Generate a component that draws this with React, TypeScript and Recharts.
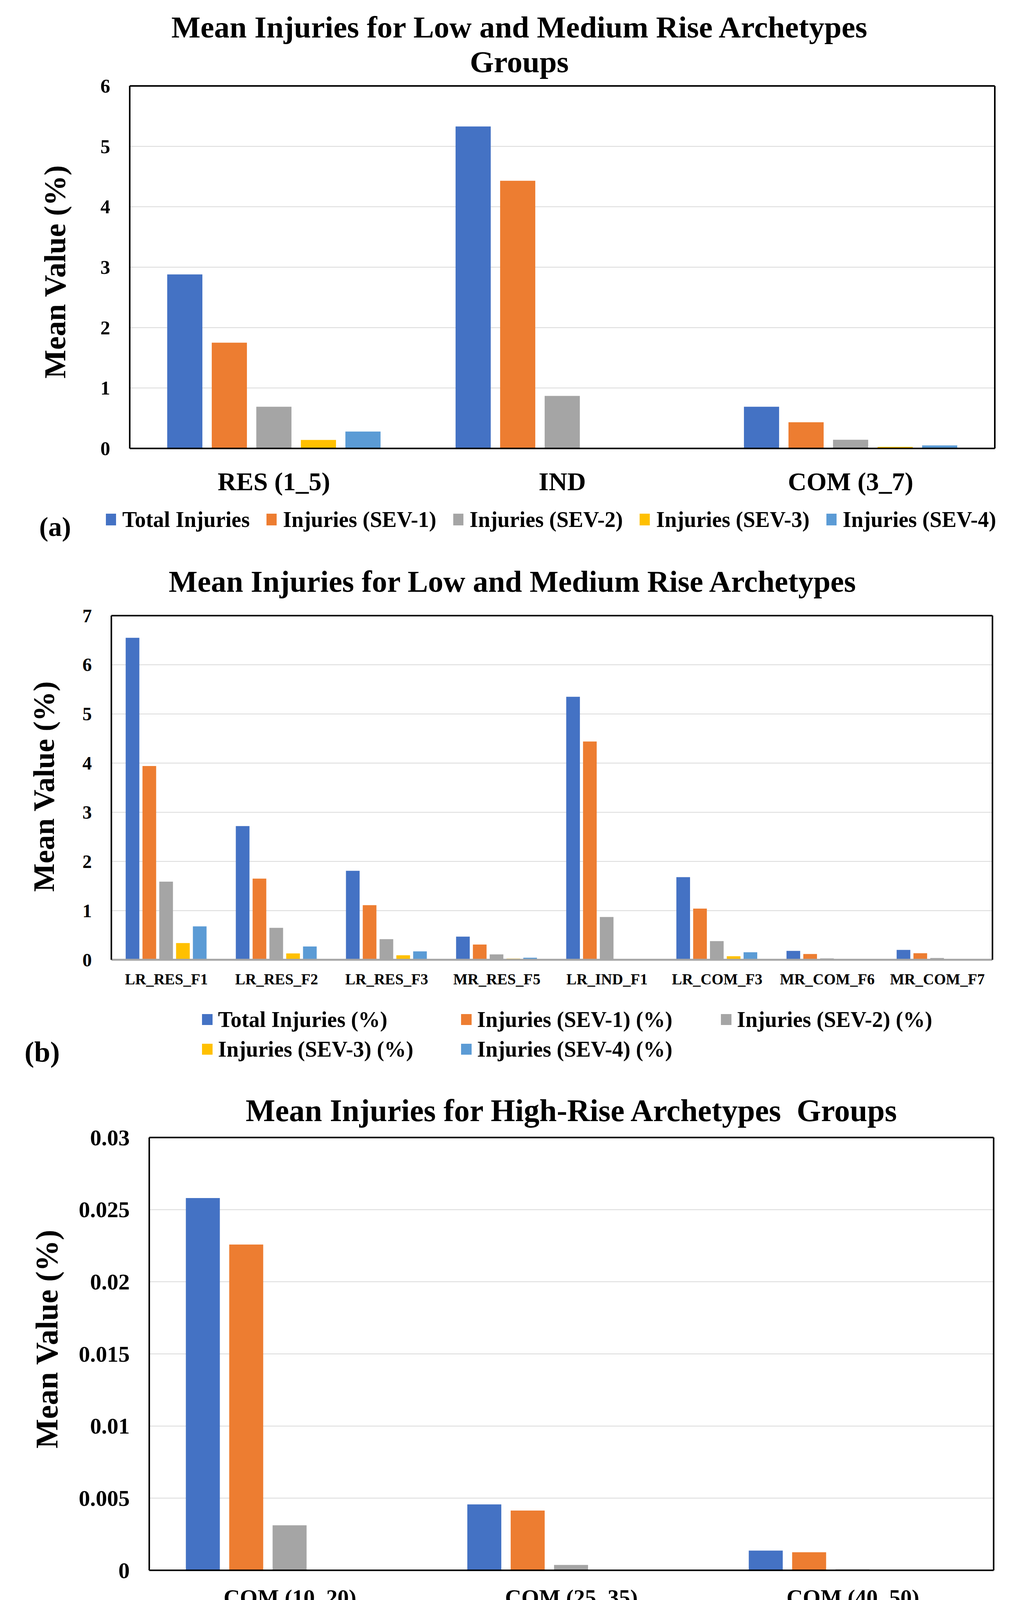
import { Bar, BarChart, CartesianGrid, XAxis, YAxis } from 'recharts'

const FONT = "'Liberation Serif', 'Times New Roman', serif"
const PAGE_WIDTH = 2590
const PAGE_HEIGHT = 5718

const SERIES_KEYS = ['total', 'sev1', 'sev2', 'sev3', 'sev4']
const COLORS = ['#4472C4', '#ED7D31', '#A5A5A5', '#FFC000', '#5B9BD5']

// (a) low and medium rise groups
const groupCategories = ['RES (1_5)', 'IND', 'COM (3_7)']
const groupTotal = [2.88, 5.33, 0.69]
const groupSev1 = [1.75, 4.43, 0.433]
const groupSev2 = [0.69, 0.87, 0.144]
const groupSev3 = [0.14, 0.008, 0.026]
const groupSev4 = [0.28, 0.008, 0.05]
const groupTicks = [0, 1, 2, 3, 4, 5, 6]
const groupLegend = ['Total Injuries', 'Injuries (SEV-1)', 'Injuries (SEV-2)', 'Injuries (SEV-3)', 'Injuries (SEV-4)']

// (b) low and medium rise archetypes
const archCategories = ['LR_RES_F1', 'LR_RES_F2', 'LR_RES_F3', 'MR_RES_F5', 'LR_IND_F1', 'LR_COM_F3', 'MR_COM_F6', 'MR_COM_F7']
const archTotal = [6.55, 2.72, 1.81, 0.47, 5.35, 1.68, 0.18, 0.2]
const archSev1 = [3.94, 1.65, 1.11, 0.31, 4.44, 1.04, 0.118, 0.133]
const archSev2 = [1.59, 0.65, 0.42, 0.11, 0.87, 0.38, 0.028, 0.035]
const archSev3 = [0.34, 0.13, 0.092, 0.024, 0.005, 0.072, 0.003, 0.003]
const archSev4 = [0.68, 0.27, 0.17, 0.042, 0.005, 0.153, 0.012, 0.012]
const archTicks = [0, 1, 2, 3, 4, 5, 6, 7]
const archLegend = ['Total Injuries (%)', 'Injuries (SEV-1) (%)', 'Injuries (SEV-2) (%)', 'Injuries (SEV-3) (%)', 'Injuries (SEV-4) (%)']

// (c) high-rise groups
const hrGroupCategories = ['COM (10_20)', 'COM (25_35)', 'COM (40_50)']
const hrGroupTotal = [0.0258, 0.00457, 0.00137]
const hrGroupSev1 = [0.02258, 0.00414, 0.00125]
const hrGroupSev2 = [0.00312, 0.00037, 0.00007]
const hrGroupSev3 = [0, 0, 0]
const hrGroupSev4 = [0, 0, 0]
const hrGroupTicks = [0, 0.005, 0.01, 0.015, 0.02, 0.025, 0.03]

// (d) high-rise archetypes
const hrCategories = ['HR_COM_F10', 'HR_COM_F15', 'HR_COM_F20', 'HR_COM_F25', 'HR_COM_F30', 'HR_COM_F35', 'HR_COM_F40', 'HR_COM_F45', 'HR_COM_F50']
const hrTotal = [0.0427, 0.026, 0.00867, 0.00588, 0.00336, 0.00452, 0.00146, 0.0018, 0.00088]
const hrSev1 = [0.0369, 0.0231, 0.00783, 0.00535, 0.00306, 0.00405, 0.00136, 0.00169, 0.00083]
const hrSev2 = [0.00575, 0.00283, 0.0008, 0.00049, 0.00028, 0.00045, 0.00012, 0.00014, 0.00004]
const hrSev3 = [0, 0, 0, 0, 0, 0, 0, 0, 0]
const hrSev4 = [0, 0, 0, 0, 0, 0, 0, 0, 0]
const hrTicks = [0, 0.005, 0.01, 0.015, 0.02, 0.025, 0.03, 0.035, 0.04, 0.045]

function buildRows(categories: string[], series: number[][]) {
  return categories.map((name, i) => {
    const row: Record<string, string | number> = { name }
    SERIES_KEYS.forEach((key, s) => {
      row[key] = series[s][i]
    })
    return row
  })
}

interface LegendLayout {
  left: number
  firstRowY: number
  rowPitch: number
  columns?: number[]
  fontSize: number
  bold: boolean
  markerW: number
  markerH: number
  textGap: number
  itemGap: number
}

interface PanelLayout {
  plot: { left: number; top: number; right: number; bottom: number }
  axisColor: string
  axisWidth: number
  barGap: number
  yTickFont: number
  yTickGap: number
  xTickFont: number
  xTickOffset: number
  title: string[]
  titleX: number
  titleY: number[]
  titleFont: number
  yTitleX: number
  yTitleY: number
  yTitleFont: number
  letter: string
  letterX: number
  letterY: number
  letterFont: number
  legend: LegendLayout
}

interface PanelProps {
  layout: PanelLayout
  categories: string[]
  series: number[][]
  ticks: number[]
  legendLabels: string[]
}

function Legend({ labels, layout }: { labels: string[]; layout: LegendLayout }) {
  const item = (label: string, i: number) => (
    <div key={label} style={{ display: 'flex', alignItems: 'center', whiteSpace: 'nowrap' }}>
      <span
        style={{
          display: 'inline-block',
          width: layout.markerW,
          height: layout.markerH,
          backgroundColor: COLORS[i],
          marginRight: layout.textGap,
        }}
      />
      <span>{label}</span>
    </div>
  )
  const base = {
    position: 'absolute' as const,
    left: layout.left,
    top: layout.firstRowY - layout.fontSize / 2,
    fontFamily: FONT,
    fontSize: layout.fontSize,
    fontWeight: layout.bold ? 700 : 400,
    lineHeight: 1,
    color: '#000',
  }
  if (layout.columns) {
    return (
      <div
        style={{
          ...base,
          display: 'grid',
          gridTemplateColumns: layout.columns.map((c) => `${c}px`).join(' '),
          rowGap: layout.rowPitch - layout.fontSize,
        }}
      >
        {labels.map(item)}
      </div>
    )
  }
  return <div style={{ ...base, display: 'flex', columnGap: layout.itemGap }}>{labels.map(item)}</div>
}

function Panel({ layout, categories, series, ticks, legendLabels }: PanelProps) {
  const { plot } = layout
  const chartTop = plot.top - 50
  const chartBottom = plot.bottom + layout.xTickOffset + 60
  const rows = buildRows(categories, series)
  const max = ticks[ticks.length - 1]
  const frame = { stroke: '#000', strokeWidth: 4 }

  const renderXTick = (props: any) => (
    <text
      x={props.x}
      y={props.y}
      textAnchor="middle"
      dominantBaseline="central"
      fontFamily={FONT}
      fontWeight={700}
      fontSize={layout.xTickFont}
      fill="#000"
    >
      {props.payload.value}
    </text>
  )

  const renderYTick = (props: any) => (
    <text
      x={props.x}
      y={props.y}
      textAnchor="end"
      dominantBaseline="central"
      fontFamily={FONT}
      fontWeight={700}
      fontSize={layout.yTickFont}
      fill="#000"
    >
      {String(props.payload.value)}
    </text>
  )

  return (
    <>
      {layout.title.map((line, i) => (
        <div
          key={line}
          style={{
            position: 'absolute',
            left: layout.titleX - 1300,
            width: 2600,
            top: layout.titleY[i] - layout.titleFont / 2,
            textAlign: 'center',
            fontFamily: FONT,
            fontWeight: 700,
            fontSize: layout.titleFont,
            lineHeight: 1,
            whiteSpace: 'pre',
          }}
        >
          {line}
        </div>
      ))}
      <div
        style={{
          position: 'absolute',
          left: layout.yTitleX - 600,
          top: layout.yTitleY - layout.yTitleFont / 2,
          width: 1200,
          height: layout.yTitleFont,
          lineHeight: `${layout.yTitleFont}px`,
          textAlign: 'center',
          transform: 'rotate(-90deg)',
          fontFamily: FONT,
          fontWeight: 700,
          fontSize: layout.yTitleFont,
        }}
      >
        Mean Value (%)
      </div>
      <div style={{ position: 'absolute', left: 0, top: chartTop }}>
        <BarChart
          width={PAGE_WIDTH}
          height={chartBottom - chartTop}
          data={rows}
          margin={{ top: 0, right: 0, bottom: 0, left: 0 }}
          barCategoryGap="13%"
          barGap={layout.barGap}
        >
          <CartesianGrid vertical={false} stroke="#D9D9D9" strokeWidth={2} />
          <XAxis
            dataKey="name"
            height={chartBottom - plot.bottom}
            interval={0}
            tickLine={false}
            tickSize={0}
            tickMargin={layout.xTickOffset}
            axisLine={{ stroke: layout.axisColor, strokeWidth: layout.axisWidth }}
            tick={renderXTick}
          />
          <XAxis
            xAxisId="top"
            orientation="top"
            dataKey="name"
            height={plot.top - chartTop}
            tick={false}
            tickLine={false}
            axisLine={frame}
          />
          <YAxis
            width={plot.left}
            domain={[0, max]}
            ticks={ticks}
            interval={0}
            tickLine={false}
            tickSize={0}
            tickMargin={layout.yTickGap}
            axisLine={frame}
            tick={renderYTick}
          />
          <YAxis
            yAxisId="right"
            orientation="right"
            width={PAGE_WIDTH - plot.right}
            domain={[0, max]}
            tick={false}
            tickLine={false}
            axisLine={frame}
          />
          {SERIES_KEYS.map((key, i) => (
            <Bar key={key} dataKey={key} fill={COLORS[i]} isAnimationActive={false} />
          ))}
        </BarChart>
      </div>
      <Legend labels={legendLabels} layout={layout.legend} />
      <div
        style={{
          position: 'absolute',
          left: layout.letterX - 100,
          width: 200,
          top: layout.letterY - layout.letterFont / 2,
          textAlign: 'center',
          fontFamily: FONT,
          fontWeight: 700,
          fontSize: layout.letterFont,
          lineHeight: 1,
        }}
      >
        {layout.letter}
      </div>
    </>
  )
}

const layoutA: PanelLayout = {
  plot: { left: 332, top: 220, right: 2546, bottom: 1148 },
  axisColor: '#000',
  axisWidth: 4,
  barGap: 24,
  yTickFont: 50,
  yTickGap: 50,
  xTickFont: 66,
  xTickOffset: 84,
  title: ['Mean Injuries for Low and Medium Rise Archetypes', 'Groups'],
  titleX: 1329,
  titleY: [69, 158],
  titleFont: 79,
  yTitleX: 141,
  yTitleY: 696,
  yTitleFont: 78,
  letter: '(a)',
  letterX: 141,
  letterY: 1349,
  letterFont: 70,
  legend: {
    left: 271,
    firstRowY: 1330,
    rowPitch: 0,
    fontSize: 56,
    bold: true,
    markerW: 26,
    markerH: 30,
    textGap: 16,
    itemGap: 43,
  },
}

const layoutB: PanelLayout = {
  plot: { left: 285, top: 1576, right: 2540, bottom: 2457 },
  axisColor: '#A6A6A6',
  axisWidth: 5,
  barGap: 8,
  yTickFont: 48,
  yTickGap: 50,
  xTickFont: 39,
  xTickOffset: 49,
  title: ['Mean Injuries for Low and Medium Rise Archetypes'],
  titleX: 1311,
  titleY: [1489],
  titleFont: 78,
  yTitleX: 112,
  yTitleY: 2013,
  yTitleFont: 77,
  letter: '(b)',
  letterX: 108,
  letterY: 2693,
  letterFont: 74,
  legend: {
    left: 517,
    firstRowY: 2610,
    rowPitch: 76,
    columns: [663, 665, 700],
    fontSize: 56,
    bold: true,
    markerW: 27,
    markerH: 28,
    textGap: 14,
    itemGap: 0,
  },
}

const layoutC: PanelLayout = {
  plot: { left: 382, top: 2912, right: 2543, bottom: 4020 },
  axisColor: '#000',
  axisWidth: 4,
  barGap: 24,
  yTickFont: 58,
  yTickGap: 50,
  xTickFont: 58,
  xTickOffset: 69,
  title: ['Mean Injuries for High-Rise Archetypes  Groups'],
  titleX: 1462,
  titleY: [2843],
  titleFont: 80,
  yTitleX: 120,
  yTitleY: 3428,
  yTitleFont: 80,
  letter: '(c)',
  letterX: 88,
  letterY: 4238,
  letterFont: 72,
  legend: {
    left: 196,
    firstRowY: 4205,
    rowPitch: 0,
    fontSize: 57,
    bold: true,
    markerW: 24,
    markerH: 30,
    textGap: 17,
    itemGap: 44,
  },
}

const layoutD: PanelLayout = {
  plot: { left: 345, top: 4485, right: 2543, bottom: 5405 },
  axisColor: '#A6A6A6',
  axisWidth: 5,
  barGap: 8,
  yTickFont: 52,
  yTickGap: 46,
  xTickFont: 31,
  xTickOffset: 38,
  title: ['Mean Injuries for High-Rise Archetypes'],
  titleX: 1294,
  titleY: [4380],
  titleFont: 80,
  yTitleX: 79,
  yTitleY: 4934,
  yTitleFont: 73,
  letter: '(d)',
  letterX: 68,
  letterY: 5636,
  letterFont: 72,
  legend: {
    left: 236,
    firstRowY: 5549,
    rowPitch: 75,
    columns: [839, 839, 700],
    fontSize: 57,
    bold: false,
    markerW: 28,
    markerH: 26,
    textGap: 14,
    itemGap: 0,
  },
}

export default function App() {
  return (
    <div
      style={{
        position: 'absolute',
        left: 0,
        top: 0,
        width: PAGE_WIDTH,
        height: PAGE_HEIGHT,
        background: '#fff',
        overflow: 'hidden',
      }}
    >
      <Panel
        layout={layoutA}
        categories={groupCategories}
        series={[groupTotal, groupSev1, groupSev2, groupSev3, groupSev4]}
        ticks={groupTicks}
        legendLabels={groupLegend}
      />
      <Panel
        layout={layoutB}
        categories={archCategories}
        series={[archTotal, archSev1, archSev2, archSev3, archSev4]}
        ticks={archTicks}
        legendLabels={archLegend}
      />
      <Panel
        layout={layoutC}
        categories={hrGroupCategories}
        series={[hrGroupTotal, hrGroupSev1, hrGroupSev2, hrGroupSev3, hrGroupSev4]}
        ticks={hrGroupTicks}
        legendLabels={groupLegend}
      />
      <Panel
        layout={layoutD}
        categories={hrCategories}
        series={[hrTotal, hrSev1, hrSev2, hrSev3, hrSev4]}
        ticks={hrTicks}
        legendLabels={archLegend}
      />
    </div>
  )
}
